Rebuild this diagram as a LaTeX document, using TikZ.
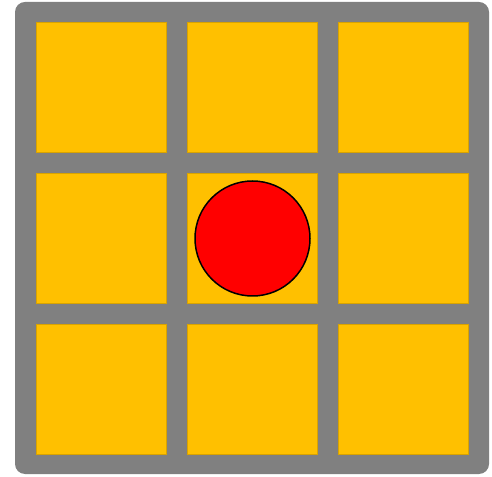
\documentclass[tikz,border=0pt]{standalone}
\definecolor{gridgray}{HTML}{808080}
\definecolor{cellyellow}{HTML}{FFC000}
\definecolor{ballred}{HTML}{FF0000}
\begin{document}
\begin{tikzpicture}[x=1pt,y=1pt,
  frame/.style={fill=gridgray,rounded corners=10pt},
  cell/.style={fill=cellyellow,draw=cellyellow!85!black,line width=0.4pt},
  ball/.style={circle,fill=ballred,draw=black,line width=1.5pt,minimum size=115pt,inner sep=0pt}]
\useasboundingbox (0,0) rectangle (492,476);
\fill[frame] (15,2) rectangle (489,474);
\foreach \i in {0,1,2}{
  \foreach \j in {0,1,2}{
    \path[cell] (36+151*\i,454-151*\j) rectangle ++(130,-130);
  }
}
\node[ball] (b) at (252.5,237.5) {};
\end{tikzpicture}
\end{document}
